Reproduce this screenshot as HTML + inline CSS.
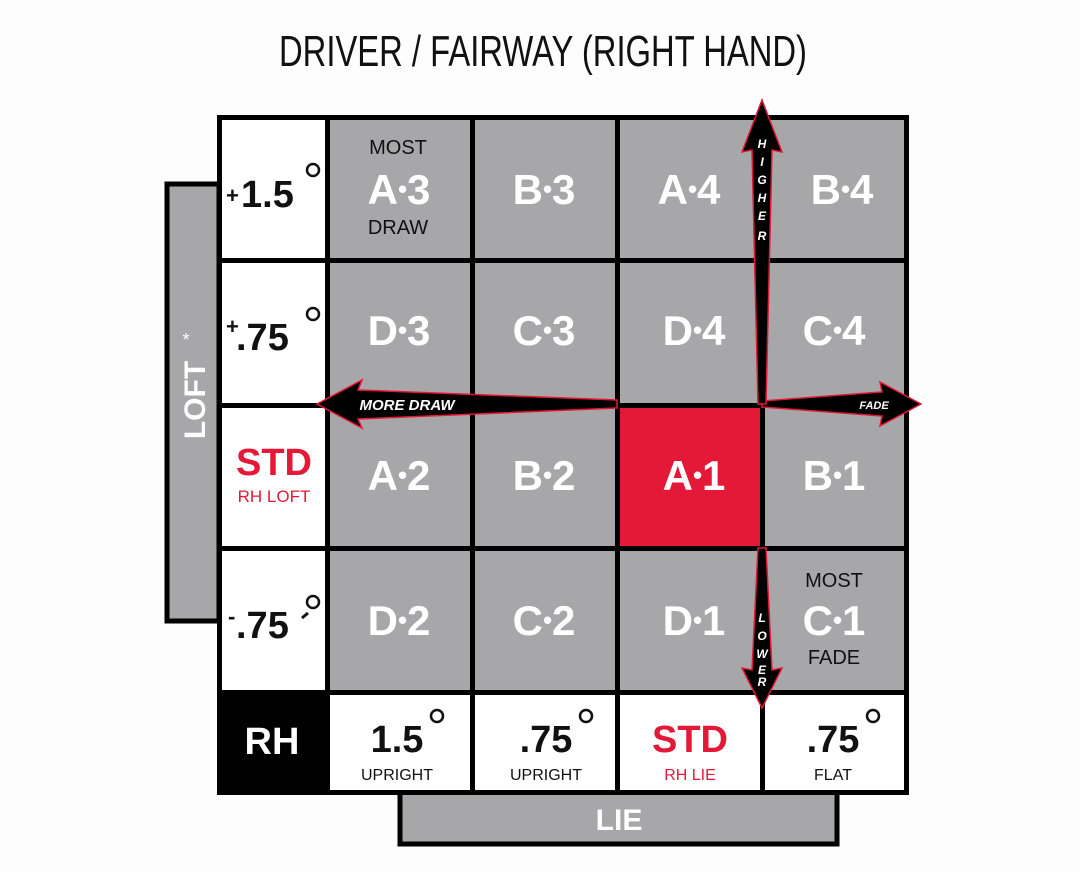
<!DOCTYPE html>
<html><head><meta charset="utf-8"><style>
html,body{margin:0;padding:0;background:#fdfdfd;}
svg{display:block;}
text{font-family:"Liberation Sans",sans-serif;}
</style></head><body>
<svg width="1080" height="872" viewBox="0 0 1080 872" xmlns="http://www.w3.org/2000/svg">
<rect width="1080" height="872" fill="#fdfdfd"/>
<text x="543" y="66" font-size="44" text-anchor="middle" fill="#111" transform="translate(543 0) scale(0.745 1) translate(-543 0)">DRIVER / FAIRWAY (RIGHT HAND)</text>
<rect x="167" y="184" width="52" height="437" fill="#a7a7aa" stroke="#000" stroke-width="5"/>
<text x="205" y="400" font-size="30" font-weight="bold" fill="#fff" text-anchor="middle" transform="rotate(-90 205 400)">LOFT</text>
<text x="186" y="346" font-size="18" fill="#fff" text-anchor="middle">*</text>
<rect x="400" y="792" width="437" height="52" fill="#a7a7aa" stroke="#000" stroke-width="5"/>
<text x="619" y="830" font-size="30" font-weight="bold" fill="#fff" text-anchor="middle">LIE</text>
<rect x="217" y="115" width="692" height="680" fill="#000"/>
<g fill="#fff">
<rect x="222" y="120" width="103" height="138"/>
<rect x="222" y="263" width="103" height="140"/>
<rect x="222" y="408" width="103" height="138"/>
<rect x="222" y="551" width="103" height="139"/>
<rect x="330" y="695" width="140" height="95"/>
<rect x="475" y="695" width="140" height="95"/>
<rect x="620" y="695" width="140" height="95"/>
<rect x="765" y="695" width="139" height="95"/>
</g>
<g fill="#a7a7aa">
<rect x="330" y="120" width="140" height="138"/><rect x="475" y="120" width="140" height="138"/><rect x="620" y="120" width="140" height="138"/><rect x="765" y="120" width="139" height="138"/>
<rect x="330" y="263" width="140" height="140"/><rect x="475" y="263" width="140" height="140"/><rect x="620" y="263" width="140" height="140"/><rect x="765" y="263" width="139" height="140"/>
<rect x="330" y="408" width="140" height="138"/><rect x="475" y="408" width="140" height="138"/><rect x="765" y="408" width="139" height="138"/>
<rect x="330" y="551" width="140" height="139"/><rect x="475" y="551" width="140" height="139"/><rect x="620" y="551" width="140" height="139"/><rect x="765" y="551" width="139" height="139"/>
</g>
<rect x="620" y="408" width="140" height="138" fill="#e31937"/>
<g font-size="42" font-weight="bold" fill="#fff" text-anchor="middle">
<text x="399" y="204">A<tspan font-size="26" dy="-6">•</tspan><tspan dy="6">3</tspan></text>
<text x="544" y="204">B<tspan font-size="26" dy="-6">•</tspan><tspan dy="6">3</tspan></text>
<text x="689" y="204">A<tspan font-size="26" dy="-6">•</tspan><tspan dy="6">4</tspan></text>
<text x="842" y="204">B<tspan font-size="26" dy="-6">•</tspan><tspan dy="6">4</tspan></text>
<text x="399" y="345">D<tspan font-size="26" dy="-6">•</tspan><tspan dy="6">3</tspan></text>
<text x="544" y="345">C<tspan font-size="26" dy="-6">•</tspan><tspan dy="6">3</tspan></text>
<text x="694" y="345">D<tspan font-size="26" dy="-6">•</tspan><tspan dy="6">4</tspan></text>
<text x="834" y="345">C<tspan font-size="26" dy="-6">•</tspan><tspan dy="6">4</tspan></text>
<text x="399" y="490">A<tspan font-size="26" dy="-6">•</tspan><tspan dy="6">2</tspan></text>
<text x="544" y="490">B<tspan font-size="26" dy="-6">•</tspan><tspan dy="6">2</tspan></text>
<text x="694" y="490">A<tspan font-size="26" dy="-6">•</tspan><tspan dy="6">1</tspan></text>
<text x="834" y="490">B<tspan font-size="26" dy="-6">•</tspan><tspan dy="6">1</tspan></text>
<text x="399" y="635">D<tspan font-size="26" dy="-6">•</tspan><tspan dy="6">2</tspan></text>
<text x="544" y="635">C<tspan font-size="26" dy="-6">•</tspan><tspan dy="6">2</tspan></text>
<text x="694" y="635">D<tspan font-size="26" dy="-6">•</tspan><tspan dy="6">1</tspan></text>
<text x="834" y="635">C<tspan font-size="26" dy="-6">•</tspan><tspan dy="6">1</tspan></text>
</g>
<g font-size="20" fill="#111" text-anchor="middle">
<text x="398" y="154">MOST</text><text x="398" y="234">DRAW</text>
<text x="834" y="587">MOST</text><text x="834" y="664">FADE</text>
</g>
<g font-weight="bold" fill="#111">
<text x="226" y="203" font-size="22">+</text><text x="241" y="207" font-size="38">1.5</text>
<text x="226" y="334" font-size="22">+</text><text x="236" y="350" font-size="38">.75</text>
<text x="228" y="624" font-size="22">-</text><text x="236" y="638" font-size="38">.75</text>
</g>
<g fill="none" stroke="#111" stroke-width="2.5">
<circle cx="313" cy="170" r="6"/><circle cx="313" cy="314" r="6"/><circle cx="313" cy="602" r="6"/>
<circle cx="437" cy="716" r="6"/><circle cx="586" cy="716" r="6"/><circle cx="873" cy="716" r="6"/>
</g>
<line x1="302" y1="618" x2="308" y2="613" stroke="#111" stroke-width="3"/>
<text x="274" y="475" font-size="38" font-weight="bold" fill="#e31937" text-anchor="middle">STD</text>
<text x="274" y="502" font-size="17" fill="#e31937" text-anchor="middle">RH LOFT</text>
<rect x="222" y="695" width="103" height="95" fill="#000"/>
<text x="272" y="754" font-size="38" font-weight="bold" fill="#fff" text-anchor="middle">RH</text>
<g font-size="38" font-weight="bold" fill="#111" text-anchor="middle">
<text x="397" y="752">1.5</text><text x="546" y="752">.75</text><text x="833" y="752">.75</text>
</g>
<text x="690" y="752" font-size="38" font-weight="bold" fill="#e31937" text-anchor="middle">STD</text>
<g font-size="16" fill="#111" text-anchor="middle">
<text x="397" y="780">UPRIGHT</text><text x="546" y="780">UPRIGHT</text><text x="833" y="780">FLAT</text>
</g>
<text x="690" y="780" font-size="16" fill="#e31937" text-anchor="middle">RH LIE</text>
<g fill="#000" stroke="#e31937" stroke-width="1.5" stroke-linejoin="miter">
<polygon points="317,404 362,380 358,390 617,400 617,408 358,419 362,428"/>
<polygon points="921,404 880,382 882,392 762,401 762,407 882,416 880,426"/>
<polygon points="762,100 782,152 772,150 766,404 758,404 752,150 742,152"/>
<polygon points="762,708 782,668 772,670 766,548 758,548 752,670 742,668"/>
</g>
<text x="407" y="410" font-size="15" font-weight="bold" font-style="italic" fill="#fff" text-anchor="middle">MORE DRAW</text>
<text x="874" y="409" font-size="11" font-weight="bold" font-style="italic" fill="#fff" text-anchor="middle">FADE</text>
<g font-size="12" font-weight="bold" font-style="italic" fill="#fff" text-anchor="middle">
<text x="762" y="148">H</text><text x="762" y="166">I</text><text x="762" y="184">G</text><text x="762" y="202">H</text><text x="762" y="220">E</text><text x="762" y="240">R</text>
<text x="762" y="622">L</text><text x="762" y="640">O</text><text x="762" y="658">W</text><text x="762" y="674">E</text><text x="762" y="686">R</text>
</g>
</svg>
</body></html>
